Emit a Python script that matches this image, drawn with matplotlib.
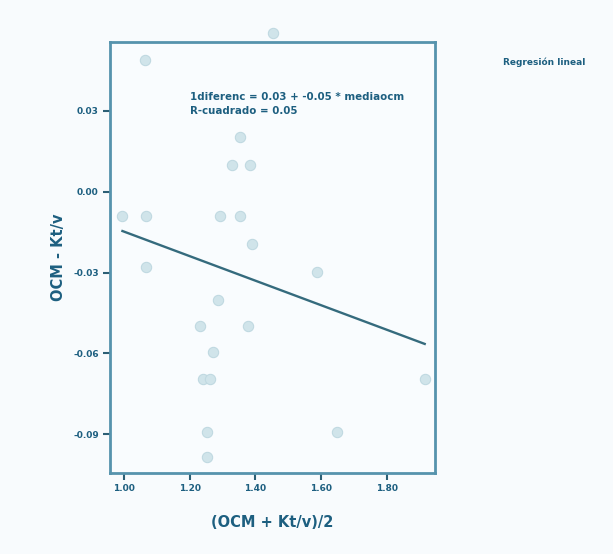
import matplotlib
matplotlib.use("Agg")
import matplotlib.pyplot as plt
import numpy as np

# Mean of the two methods vs. their difference
mean_vals = [1.064, 1.454, 1.353, 1.329, 1.384, 0.995, 1.067, 1.292, 1.353, 1.390,
             1.067, 1.587, 1.286, 1.231, 1.377, 1.271, 1.241, 1.262, 1.252, 1.252,
             1.648, 1.916]
diff_vals = [0.0489, 0.0590, 0.0204, 0.0100, 0.0100, -0.0089, -0.0089, -0.0089, -0.0089, -0.0193,
             -0.0281, -0.0296, -0.0400, -0.0500, -0.0500, -0.0596, -0.0696, -0.0696, -0.0893, -0.0985,
             -0.0893, -0.0696]

# Fitted linear regression (rounded values shown in the annotation)
intercept = 0.0307
slope = -0.0455
r_squared = 0.05

x_ticks = [1.00, 1.20, 1.40, 1.60, 1.80]
x_tick_labels = ["1.00", "1.20", "1.40", "1.60", "1.80"]
y_ticks = [0.03, 0.00, -0.03, -0.06, -0.09]
y_tick_labels = ["0.03", "0.00", "-0.03", "-0.06", "-0.09"]

frame_color = "#5693ad"
text_color = "#1d5f80"
bg = "#f8fbfd"

fig = plt.figure(figsize=(6.13, 5.54), dpi=100, facecolor=bg)
ax = fig.add_axes([0.1794, 0.1462, 0.530, 0.778])
ax.set_facecolor("#f9fcfe")

ax.scatter(mean_vals, diff_vals, s=55, marker="o", facecolor="#d0e4ea",
           edgecolor="#c0d9e1", linewidth=0.8, zorder=2, clip_on=False)

xs = np.array([min(mean_vals), max(mean_vals)])
ax.plot(xs, intercept + slope * xs, color="#356b7d", linewidth=1.7, zorder=3)

ax.set_xlim(0.957, 1.947)
ax.set_ylim(-0.1044, 0.0556)
ax.set_xticks(x_ticks)
ax.set_xticklabels(x_tick_labels)
ax.set_yticks(y_ticks)
ax.set_yticklabels(y_tick_labels)

for s in ax.spines.values():
    s.set_color(frame_color)
    s.set_linewidth(2.0)
ax.tick_params(direction="out", length=5, width=1.5, color="#2c5f75",
               labelsize=6.5, labelcolor=text_color, pad=3)
for lbl in ax.get_xticklabels() + ax.get_yticklabels():
    lbl.set_fontweight("bold")

ax.set_xlabel("(OCM + Kt/v)/2", fontsize=10.5, fontweight="bold", color=text_color, labelpad=16)
ax.set_ylabel("OCM - Kt/v", fontsize=10.5, fontweight="bold", color=text_color, labelpad=5)

ax.text(0.245, 0.885,
        f"1diferenc = {intercept:.2f} + {slope:.2f} * mediaocm\nR-cuadrado = {r_squared:.2f}",
        transform=ax.transAxes, fontsize=7.4, fontweight="bold", color=text_color,
        va="top", ha="left", linespacing=1.5)

fig.text(0.888, 0.888, "Regresión lineal", fontsize=6.5, fontweight="bold",
         color=text_color, ha="center", va="center")

fig.savefig("out.png", dpi=100, facecolor=bg)
